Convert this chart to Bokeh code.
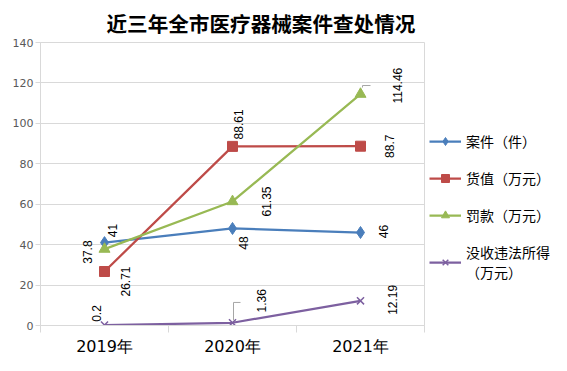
import math
from bokeh.plotting import figure
from bokeh.models import Range1d, FixedTicker, Legend, LegendItem
from bokeh.core.properties import value
from bokeh.embed import file_html
from bokeh.resources import INLINE

# ---- data ----
years = ["2019年", "2020年", "2021年"]
cases = [41, 48, 46]
goods_value = [26.71, 88.61, 88.7]
fines = [37.8, 61.35, 114.46]
confiscated = [0.2, 1.36, 12.19]
series_names = ["案件（件）", "货值（万元）", "罚款（万元）", "没收违法所得\n（万元）"]
y_ticks = [0, 20, 40, 60, 80, 100, 120, 140]
title_text = "近三年全市医疗器械案件查处情况"

# ---- styles ----
series = [cases, goods_value, fines, confiscated]
colors = ["#4A7EBB", "#BE4B48", "#98B954", "#7D60A0"]
markers = ["diamond", "square", "triangle", "x"]
marker_sizes = [12, 10, 11, 10]
# label offsets in screen px (dx right, dy down)
label_offsets = [
    [(8, -12), (10.5, 14.5), (23, -1)],
    [(21, 10), (6, -22), (28.5, 0)],
    [(-17, 3), (33.5, 0), (36.5, -8.5)],
    [(-8.5, -11.6), (28.5, -22), (32, -1)],
]
# leader lines: (series index, point index, path in px relative to point)
leaders = [
    (3, 1, [(1, -2.3), (1, -20.3), (8, -20.3)]),
    (2, 2, [(2, -6.6), (2, -8.6), (10, -8.6)]),
]

frame_left, frame_top = 40, 42
frame_w, frame_h = 384, 283
right_w, bottom_h = 131, 30
px_per_x = frame_w / len(years)
px_per_y = frame_h / (y_ticks[-1] - y_ticks[0])

xs = [i + 0.5 for i in range(len(years))]

p = figure(frame_width=frame_w, frame_height=frame_h,
           output_backend="svg", toolbar_location=None,
           x_range=Range1d(0, len(years)), y_range=Range1d(y_ticks[0], y_ticks[-1]),
           min_border_left=frame_left, min_border_right=right_w,
           min_border_top=frame_top, min_border_bottom=bottom_h,
           background_fill_color="white", border_fill_color="white")

p.title.text = title_text
p.title.align = "left"
p.title.text_font = "Noto Sans CJK SC"
p.title.text_font_size = "20.6px"
p.title.text_font_style = "bold"
p.title.text_color = "black"
p.title.offset = 66
p.title.standoff = 9

p.outline_line_color = "#D9D9D9"

# grid
p.xgrid.visible = False
p.ygrid.ticker = FixedTicker(ticks=y_ticks)
p.ygrid.grid_line_color = "#D9D9D9"

# y axis
ya = p.yaxis[0]
ya.ticker = FixedTicker(ticks=y_ticks)
ya.axis_line_color = "#D9D9D9"
ya.major_tick_line_color = "#D9D9D9"
ya.major_tick_out = 5
ya.major_tick_in = 0
ya.minor_tick_line_color = None
ya.major_label_text_font = "DejaVu Sans"
ya.major_label_text_font_size = "11px"
ya.major_label_text_color = "#595959"
ya.major_label_standoff = 2

# x axis
xa = p.xaxis[0]
xa.ticker = FixedTicker(ticks=xs, minor_ticks=list(range(len(years) + 1)))
xa.major_label_overrides = {x: y for x, y in zip(xs, years)}
xa.axis_line_color = "#D9D9D9"
xa.major_tick_line_color = None
xa.major_tick_out = 0
xa.major_tick_in = 0
xa.minor_tick_line_color = "#D9D9D9"
xa.minor_tick_out = 7
xa.minor_tick_in = 0
xa.major_label_text_font = "DejaVu Sans"
xa.major_label_text_font_size = "16px"
xa.major_label_text_color = "black"
xa.major_label_standoff = 4

items = []
for k, vals in enumerate(series):
    lr = p.line(xs, vals, line_color=colors[k], line_width=2.25)
    sr = p.scatter(xs, vals, marker=markers[k], size=marker_sizes[k],
                   fill_color=colors[k], line_color=colors[k],
                   line_width=1.5 if markers[k] == "x" else 1)
    items.append(LegendItem(label=series_names[k], renderers=[lr, sr]))

# data labels
for k, vals in enumerate(series):
    p.text(x=xs, y=vals, text=[f"{v:g}" for v in vals],
           angle=math.pi / 2,
           x_offset=[o[0] for o in label_offsets[k]],
           y_offset=[o[1] for o in label_offsets[k]],
           text_align="center", text_baseline="middle",
           text_font=value("Liberation Sans"), text_font_size="12px",
           text_color="black")

# leader lines
for k, i, path in leaders:
    lx = [xs[i] + dx / px_per_x for dx, dy in path]
    ly = [series[k][i] - dy / px_per_y for dx, dy in path]
    p.line(lx, ly, line_color="#A6A6A6", line_width=1)

legend = Legend(items=items, location="top_left", orientation="vertical",
                title=" ", title_text_font_size="1px", title_standoff=83,
                label_text_font="Noto Sans CJK SC", label_text_font_size="14px",
                label_text_color="black", label_standoff=5,
                glyph_width=32, glyph_height=20, label_height=20,
                spacing=17, padding=0, margin=5,
                border_line_color=None, background_fill_alpha=0)
p.add_layout(legend, "right")

open("out.html", "w").write(file_html(p, INLINE))
